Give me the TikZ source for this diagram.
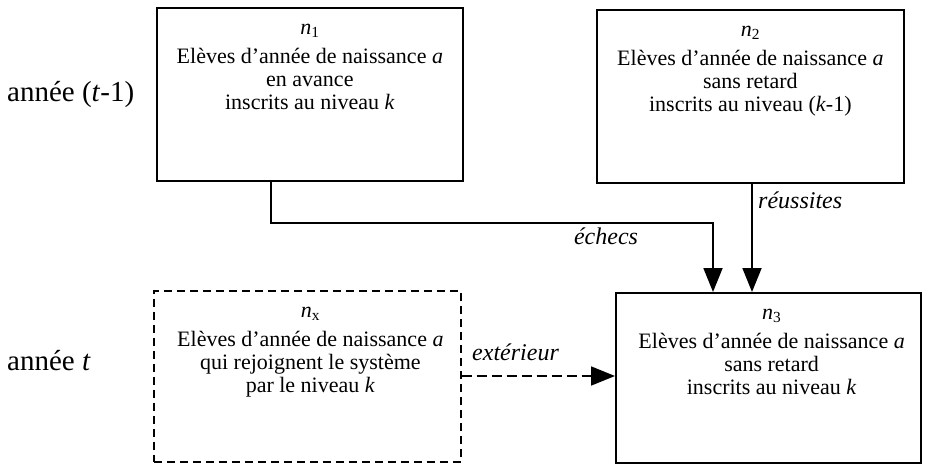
\documentclass[tikz,border=0pt]{standalone}
\usepackage{fontspec}
\setmainfont{Liberation Serif}
\usetikzlibrary{arrows.meta}
\begin{document}
\begin{tikzpicture}[x=1pt,y=-1pt,
  boxshape/.style={draw=black, line width=1.7pt, rectangle, inner sep=0pt, anchor=north west},
  dashbox/.style={boxshape, dash pattern=on 8pt off 5pt},
  boxtext/.style={anchor=north, inner sep=0pt, align=center, yshift=-17pt, font=\fontsize{22}{23}\selectfont},
  yeartext/.style={anchor=base west, inner sep=0pt, font=\fontsize{29}{32}\selectfont},
  flowtext/.style={inner sep=0pt, font=\fontsize{24}{26}\selectfont\itshape},
  conn/.style={line width=1.8pt, -{Triangle[length=24pt,width=19pt]}},
]
\useasboundingbox (0,0) rectangle (925,465);

% boxes
\node[boxshape, minimum width=306pt, minimum height=173pt] (n1) at (156,7) {};
\node[boxshape, minimum width=307pt, minimum height=173pt] (n2) at (596,9) {};
\node[dashbox, minimum width=307pt, minimum height=171pt] (nx) at (153,290) {};
\node[boxshape, line width=2.2pt, minimum width=305pt, minimum height=170pt] (n3) at (615,292) {};

% box texts
\node[boxtext] (t1) at (n1.north)
  {\textit{n}\textsubscript{1}\\[6pt] Elèves d’année de naissance \textit{a}\\ en avance\\ inscrits au niveau \textit{k}};
\node[boxtext] (t2) at (n2.north)
  {\textit{n}\textsubscript{2}\\[6pt] Elèves d’année de naissance \textit{a}\\ sans retard\\ inscrits au niveau (\textit{k}-1)};
\node[boxtext, xshift=3pt] (tx) at (nx.north)
  {\textit{n}\textsubscript{x}\\[6pt] Elèves d’année de naissance \textit{a}\\ qui rejoignent le système\\ par le niveau \textit{k}};
\node[boxtext, xshift=3pt] (t3) at (n3.north)
  {\textit{n}\textsubscript{3}\\[6pt] Elèves d’année de naissance \textit{a}\\ sans retard\\ inscrits au niveau \textit{k}};

% year labels
\node[yeartext] (y1) at (7,102) {année (\textit{t}-1)};
\node[yeartext] (y2) at (7,370) {année \textit{t}};

% connectors
\coordinate (c1) at (271,223);
\coordinate (c2) at (713,223);
\coordinate (c3) at (752,0);
\coordinate (c4) at (0,376);
\draw[conn] (c1 |- n1.south) -- (c1) -- (c2) -- (c2 |- n3.north);
\draw[conn] (c3 |- n2.south) -- (c3 |- n3.north);
\draw[conn, dash pattern=on 10pt off 5pt] (c4 -| nx.east) -- (c4 -| n3.west);

% connector labels
\node[flowtext, anchor=base] (l1) at (606,244) {échecs};
\node[flowtext, anchor=base west] (l2) at (758,208) {réussites};
\node[flowtext, anchor=base west] (l3) at (472,360) {extérieur};
\end{tikzpicture}
\end{document}
